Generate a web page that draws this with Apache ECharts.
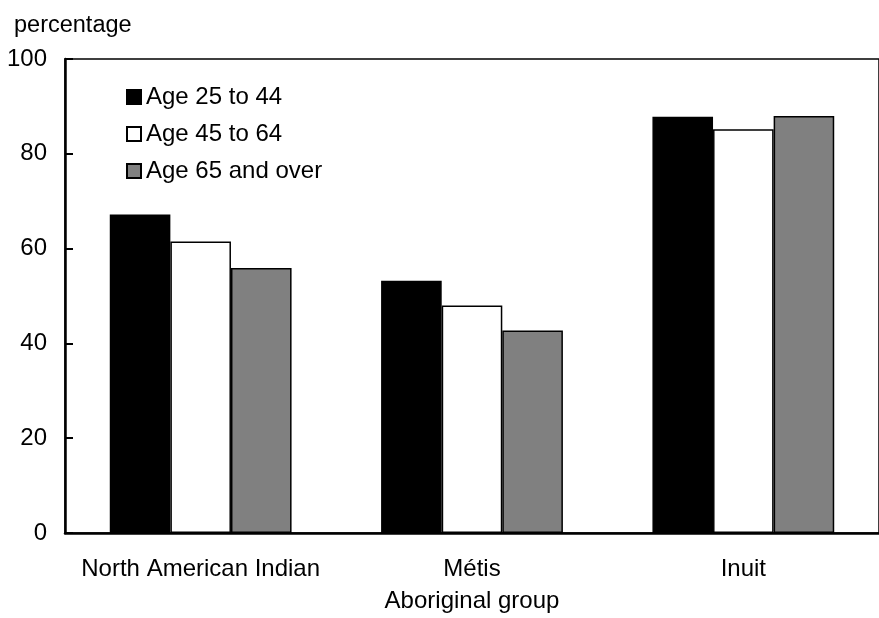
<!DOCTYPE html>
<html><head><meta charset="utf-8">
<script src="https://cdn.jsdelivr.net/npm/echarts@6/dist/echarts.min.js"></script>
<style>html,body{margin:0;padding:0;background:#fff}#c{width:879px;height:618px}</style>
</head><body><div id="c"></div>
<script>
const categories = ["North American Indian", "Métis", "Inuit"];
const age25to44 = [67.2, 53.2, 87.8];
const age45to64 = [61.5, 48.0, 85.2];
const age65plus = [55.9, 42.7, 88.0];
const yTicks = [0, 20, 40, 60, 80, 100];

const font = "'Liberation Sans', Arial, sans-serif";
const fs = 24;
const chart = echarts.init(document.getElementById('c'), null, {renderer: 'canvas'});
const mk = (name, data, color) => ({
  name, type: 'bar', data, barGap: '0%', barCategoryGap: '33%',
  itemStyle: {color, borderColor: '#000', borderWidth: 1.5},
  emphasis: {disabled: true}
});
chart.setOption({
  animation: false,
  textStyle: {fontFamily: font},
  title: {text: 'percentage', left: 9, top: 9,
    textStyle: {fontFamily: font, fontSize: 23.5, fontWeight: 'normal', color: '#000'}},
  grid: {left: 65, width: 819, top: 59, height: 478, show: true, borderColor: '#000', borderWidth: 1.5, backgroundColor: 'transparent'},
  legend: {
    orient: 'vertical', left: 126, top: 85, itemWidth: 14, itemHeight: 14, itemGap: 13,
    icon: 'rect', padding: 0,
    textStyle: {fontFamily: font, fontSize: fs, color: '#000'},
    data: ['Age 25 to 44', 'Age 45 to 64', 'Age 65 and over']
  },
  xAxis: {
    type: 'category', data: categories,
    name: 'Aboriginal group', nameLocation: 'middle', nameGap: 56,
    nameTextStyle: {fontFamily: font, fontSize: fs, color: '#000'},
    axisLine: {lineStyle: {color: '#000', width: 2.5}},
    axisTick: {show: false},
    axisLabel: {fontFamily: font, fontSize: fs, color: '#000', margin: 24, interval: 0}
  },
  yAxis: {
    type: 'value', min: yTicks[0], max: yTicks[yTicks.length-1], interval: 20,
    axisLine: {show: true, lineStyle: {color: '#000', width: 2.5}},
    axisTick: {show: true, inside: true, length: 8, lineStyle: {color: '#000', width: 2}},
    splitLine: {show: false},
    axisLabel: {fontFamily: font, fontSize: fs, color: '#000', margin: 18}
  },
  series: [
    mk('Age 25 to 44', age25to44, '#000000'),
    mk('Age 45 to 64', age45to64, '#ffffff'),
    mk('Age 65 and over', age65plus, '#808080')
  ]
});
</script></body></html>
